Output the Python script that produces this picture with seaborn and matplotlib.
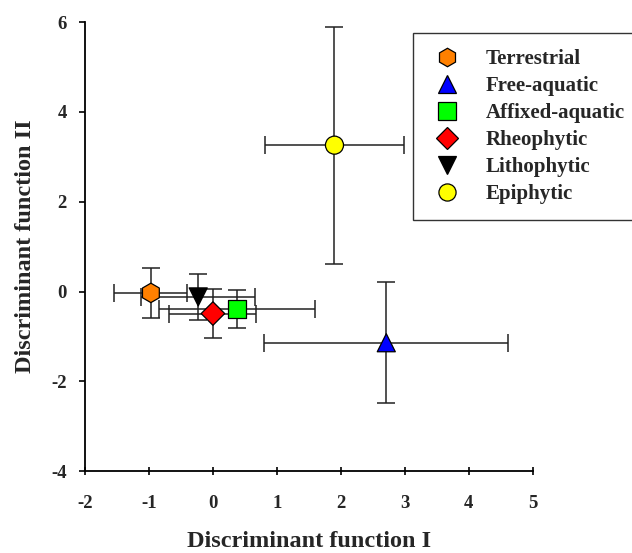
import matplotlib
matplotlib.use("Agg")
import matplotlib.pyplot as plt
import seaborn as sns
import pandas as pd
from matplotlib.lines import Line2D

groups = ["Terrestrial", "Free-aquatic", "Affixed-aquatic", "Rheophytic", "Lithophytic", "Epiphytic"]
df1 = [-0.97, 2.71, 0.38, 0.0, -0.23, 1.90]
df2 = [-0.03, -1.14, -0.39, -0.49, -0.12, 3.26]
df1_err = [0.57, 1.91, 1.22, 0.68, 0.89, 1.08]
df2_err = [0.55, 1.35, 0.42, 0.54, 0.51, 2.64]
colors = ["#FF8000", "#0000FF", "#00FF00", "#FF0000", "#000000", "#FFFF00"]
markers = ["h", "^", "s", "D", "v", "o"]
msizes = [14, 13, 13, 12, 13, 13]

xticks = [-2, -1, 0, 1, 2, 3, 4, 5]
yticks = [-4, -2, 0, 2, 4, 6]

sns.set_style("ticks")
plt.rcParams["font.family"] = ["Liberation Serif", "DejaVu Serif"]
plt.rcParams["font.weight"] = "bold"

fig = plt.figure(figsize=(6.32, 5.53), dpi=100)
ax = fig.add_axes([0.1345, 0.148, 0.7085, 0.812])

df = pd.DataFrame({"group": groups, "x": df1, "y": df2})

for i in range(len(groups)):
    ax.errorbar(df1[i], df2[i], xerr=df1_err[i], yerr=df2_err[i], fmt="none",
                ecolor="#222222", elinewidth=1.1, capsize=6.5, capthick=1.1, zorder=2)

sns.scatterplot(data=df, x="x", y="y", hue="group", style="group",
                palette=dict(zip(groups, colors)),
                markers=dict(zip(groups, markers)),
                edgecolor="black", linewidth=0.9, ax=ax, zorder=3, legend=False)
coll = ax.collections[-1]
coll.set_sizes([m**2 for m in msizes])

ax.set_xlim(-2, 5)
ax.set_ylim(-4, 6)
ax.set_xticks(xticks)
ax.set_yticks(yticks)
ax.set_xticklabels([str(t) for t in xticks], fontsize=13.5, fontweight="bold")
ax.set_yticklabels([str(t) for t in yticks], fontsize=13.5, fontweight="bold")
ax.tick_params(axis="x", direction="inout", length=6, width=1.2, color="black", pad=14)
ax.tick_params(axis="y", direction="out", length=4, width=1.2, color="black", pad=9)
sns.despine(ax=ax)
for s in ["left", "bottom"]:
    ax.spines[s].set_linewidth(1.3)
    ax.spines[s].set_color("black")

ax.set_xlabel("Discriminant function I", fontsize=17.5, fontweight="bold", labelpad=14)
ax.set_ylabel("Discriminant function II", fontsize=17.5, fontweight="bold", labelpad=11)

handles = [Line2D([], [], linestyle="none", marker=markers[i], markersize=msizes[i] * 0.95,
                  markerfacecolor=colors[i], markeredgecolor="black", markeredgewidth=0.9)
           for i in range(len(groups))]
leg = fig.legend(handles, groups, loc="upper left", bbox_to_anchor=(0.653, 0.94),
                 frameon=True, fancybox=False, handletextpad=0.95,
                 labelspacing=0.34, borderpad=0.75, borderaxespad=0, handlelength=1.8,
                 prop={"weight": "bold", "size": 15, "family": "Liberation Serif"})
leg.get_frame().set_edgecolor("black")
leg.get_frame().set_linewidth(1.0)

fig.savefig("out.png", dpi=100)
